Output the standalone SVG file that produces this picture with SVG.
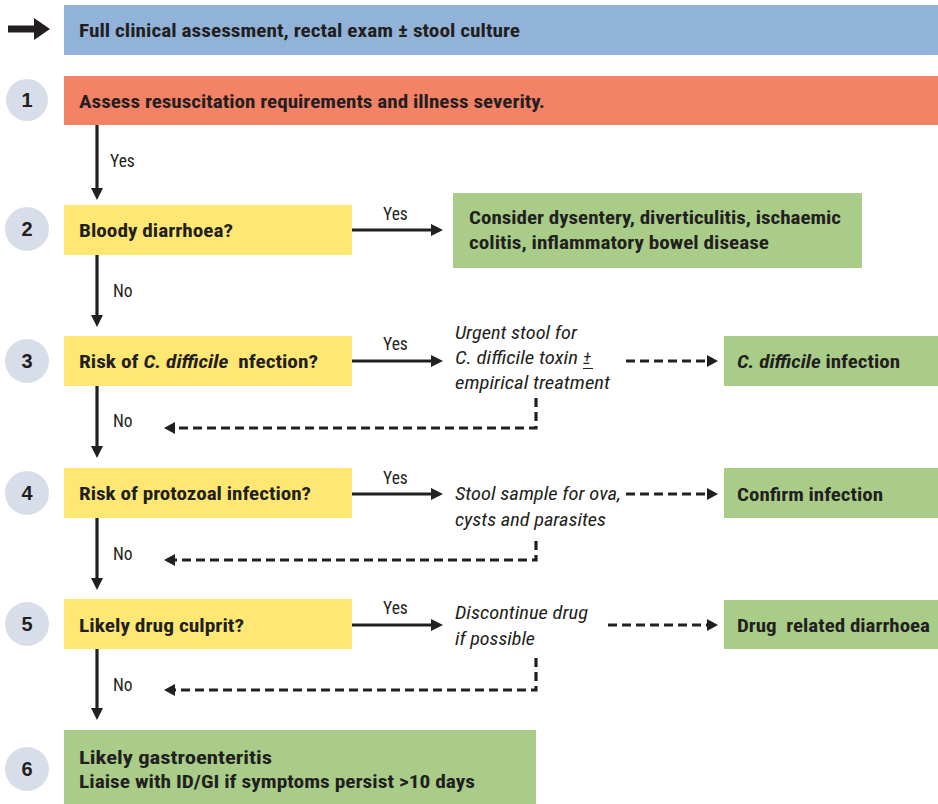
<svg xmlns="http://www.w3.org/2000/svg" width="938" height="804" viewBox="0 0 938 804">
<defs>
<style>
.b{font-family:"Liberation Sans Narrow","Roboto Condensed","Liberation Sans",Arial,sans-serif;font-weight:bold;font-size:19px;fill:#231f20}
.r{font-family:"Liberation Sans Narrow","Roboto Condensed","Liberation Sans",Arial,sans-serif;font-size:17.5px;fill:#231f20}
.i{font-family:"Liberation Sans Narrow","Roboto Condensed","Liberation Sans",Arial,sans-serif;font-style:italic;font-size:17.5px;fill:#231f20}
.n{font-family:"Liberation Sans","Arial",sans-serif;font-weight:bold;font-size:20px;fill:#231f20;text-anchor:middle}
.pre{white-space:pre}
.circ{fill:#d7dee9}
.yel{fill:#fee873}
.grn{fill:#a9cd88}
.solid{stroke:#231f20;stroke-width:3.2;fill:none;marker-end:url(#ah)}
.dash{stroke:#231f20;stroke-width:3.2;fill:none;stroke-dasharray:9 5;marker-end:url(#dh)}
</style>
<marker id="ah" markerUnits="userSpaceOnUse" markerWidth="14" markerHeight="14" refX="6" refY="6" orient="auto">
<path d="M0,0 L12,6 L0,12 z" fill="#231f20"/>
</marker>
<marker id="dh" markerUnits="userSpaceOnUse" markerWidth="14" markerHeight="14" refX="4" refY="6" orient="auto">
<path d="M0,0 L11,6 L0,12 z" fill="#231f20"/>
</marker>
</defs>
<rect width="938" height="804" fill="#ffffff"/>

<g id="start-arrow">
<path d="M8,25.5 H34 V18 L50,29 L34,40 V32.5 H8 z" fill="#231f20"/>
</g>

<g id="node-assessment">
<rect x="64" y="5" width="874" height="50" fill="#92b3d9"/>
<text class="b" x="79" y="37" textLength="441" lengthAdjust="spacingAndGlyphs">Full clinical assessment, rectal exam ± stool culture</text>
</g>

<g id="node-1">
<circle class="circ" cx="27" cy="100" r="21"/>
<text class="n" x="27" y="107">1</text>
<rect x="64" y="76" width="874" height="49" fill="#f48266"/>
<text class="b" x="79" y="108" textLength="466" lengthAdjust="spacingAndGlyphs">Assess resuscitation requirements and illness severity.</text>
</g>

<g id="node-2">
<circle class="circ" cx="27" cy="229" r="22"/>
<text class="n" x="27" y="236">2</text>
<rect class="yel" x="64" y="205" width="288" height="50"/>
<text class="b" x="79" y="237" textLength="154" lengthAdjust="spacingAndGlyphs">Bloody diarrhoea?</text>
</g>

<g id="node-2-yes">
<rect class="grn" x="453" y="193" width="409" height="75"/>
<text class="b" x="469" y="224" textLength="372" lengthAdjust="spacingAndGlyphs">Consider dysentery, diverticulitis, ischaemic</text>
<text class="b" x="469" y="249" textLength="300" lengthAdjust="spacingAndGlyphs">colitis, inflammatory bowel disease</text>
</g>

<g id="node-3">
<circle class="circ" cx="27" cy="361" r="22"/>
<text class="n" x="27" y="368">3</text>
<rect class="yel" x="64" y="336" width="288" height="50"/>
<text class="b pre" x="79" y="368" textLength="239" lengthAdjust="spacingAndGlyphs">Risk of <tspan font-style="italic">C. difficile</tspan>  nfection?</text>
</g>

<g id="note-3">
<text class="i" x="455" y="339" textLength="122" lengthAdjust="spacingAndGlyphs">Urgent stool for</text>
<text class="i" x="455" y="364" textLength="123" lengthAdjust="spacingAndGlyphs">C. difficile toxin</text>
<text class="i" x="583" y="364">±</text>
<line x1="583" y1="368.5" x2="593" y2="368.5" stroke="#231f20" stroke-width="1"/>
<text class="i" x="455" y="389" textLength="155" lengthAdjust="spacingAndGlyphs">empirical treatment</text>
</g>

<g id="node-3-yes">
<rect class="grn" x="724" y="336" width="214" height="50"/>
<text class="b" x="737" y="368" textLength="163" lengthAdjust="spacingAndGlyphs"><tspan font-style="italic">C. difficile</tspan> infection</text>
</g>

<g id="node-4">
<circle class="circ" cx="27" cy="493" r="22"/>
<text class="n" x="27" y="500">4</text>
<rect class="yel" x="64" y="468" width="288" height="50"/>
<text class="b" x="79" y="500" textLength="232" lengthAdjust="spacingAndGlyphs">Risk of protozoal infection?</text>
</g>

<g id="note-4">
<text class="i" x="455" y="500" textLength="166" lengthAdjust="spacingAndGlyphs">Stool sample for ova,</text>
<text class="i" x="455" y="526" textLength="151" lengthAdjust="spacingAndGlyphs">cysts and parasites</text>
</g>

<g id="node-4-yes">
<rect class="grn" x="724" y="468" width="214" height="50"/>
<text class="b" x="737" y="501" textLength="146" lengthAdjust="spacingAndGlyphs">Confirm infection</text>
</g>

<g id="node-5">
<circle class="circ" cx="27" cy="624" r="22"/>
<text class="n" x="27" y="631">5</text>
<rect class="yel" x="64" y="599" width="288" height="50"/>
<text class="b" x="79" y="632" textLength="165" lengthAdjust="spacingAndGlyphs">Likely drug culprit?</text>
</g>

<g id="note-5">
<text class="i" x="455" y="619" textLength="133" lengthAdjust="spacingAndGlyphs">Discontinue drug</text>
<text class="i" x="455" y="645" textLength="80" lengthAdjust="spacingAndGlyphs">if possible</text>
</g>

<g id="node-5-yes">
<rect class="grn" x="724" y="600" width="214" height="49"/>
<text class="b pre" x="737" y="632" textLength="193" lengthAdjust="spacingAndGlyphs">Drug  related diarrhoea</text>
</g>

<g id="node-6">
<circle class="circ" cx="27" cy="769" r="22"/>
<text class="n" x="27" y="776">6</text>
<rect class="grn" x="64" y="730" width="472" height="74"/>
<text class="b" x="79" y="764" textLength="193" lengthAdjust="spacingAndGlyphs">Likely gastroenteritis</text>
<text class="b" x="79" y="788" textLength="396" lengthAdjust="spacingAndGlyphs">Liaise with ID/GI if symptoms persist &gt;10 days</text>
</g>

<g id="connectors">
<line class="solid" x1="97" y1="125" x2="97" y2="194"/>
<line class="solid" x1="97" y1="255" x2="97" y2="321"/>
<line class="solid" x1="97" y1="386" x2="97" y2="452"/>
<line class="solid" x1="97" y1="518" x2="97" y2="584"/>
<line class="solid" x1="97" y1="649" x2="97" y2="714"/>

<line class="solid" x1="352" y1="230" x2="437" y2="230"/>
<line class="solid" x1="352" y1="361" x2="437" y2="361"/>
<line class="solid" x1="352" y1="494" x2="437" y2="494"/>
<line class="solid" x1="352" y1="625" x2="437" y2="625"/>

<line class="dash" x1="626" y1="361" x2="711" y2="361"/>
<line class="dash" x1="626" y1="494" x2="711" y2="494"/>
<line class="dash" x1="608" y1="625" x2="711" y2="625"/>

<path class="dash" d="M536,398 V428 H171"/>
<path class="dash" d="M536,541 V560 H171"/>
<path class="dash" d="M536,658 V690 H171"/>

<text class="r" x="110" y="167">Yes</text>
<text class="r" x="113" y="297">No</text>
<text class="r" x="113" y="427">No</text>
<text class="r" x="113" y="560">No</text>
<text class="r" x="113" y="691">No</text>
<text class="r" x="383" y="220">Yes</text>
<text class="r" x="383" y="350">Yes</text>
<text class="r" x="383" y="484">Yes</text>
<text class="r" x="383" y="614">Yes</text>
</g>
</svg>
